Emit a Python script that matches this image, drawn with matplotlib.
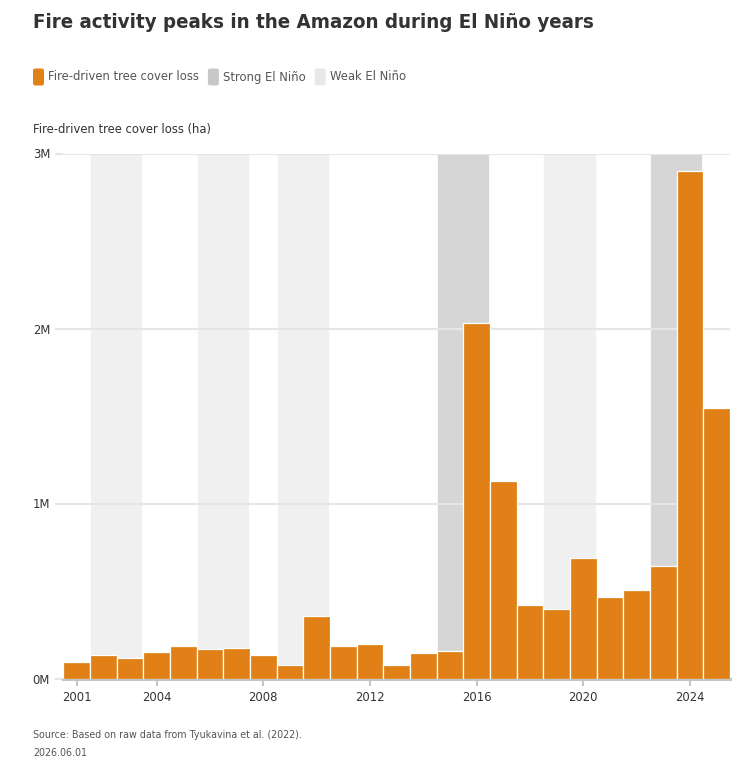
import matplotlib
matplotlib.use("Agg")
import matplotlib.pyplot as plt
from matplotlib import font_manager as fm
from matplotlib.patches import FancyBboxPatch

# ---------------- data ----------------
years = list(range(2001, 2026))
fire_loss = [94000, 136000, 115000, 153000, 188000, 167000, 177000, 137000, 80000, 356000,
             183000, 200000, 80000, 147000, 157000, 2031000, 1127000, 418000, 399000, 687000,
             464000, 504000, 641000, 2899000, 1547000]
strong_start = [2015, 2023]
strong_end = [2016, 2024]
weak_start = [2002, 2006, 2009, 2019]
weak_end = [2003, 2007, 2010, 2020]
xtick_years = [2001, 2004, 2008, 2012, 2016, 2020, 2024]
ytick_values = [0, 1000000, 2000000, 3000000]
ytick_labels = ["0M", "1M", "2M", "3M"]
title = "Fire activity peaks in the Amazon during El Niño years"
legend_labels = ["Fire-driven tree cover loss", "Strong El Niño", "Weak El Niño"]
y_title = "Fire-driven tree cover loss (ha)"
source = "Source: Based on raw data from Tyukavina et al. (2022)."
date_note = "2026.06.01"

# ---------------- fonts ----------------
names = {f.name for f in fm.fontManager.ttflist}
if "Liberation Sans Narrow" in names:
    FAM, STRETCH = "Liberation Sans Narrow", "normal"
elif any(f.name == "DejaVu Sans" and f.stretch == "condensed" for f in fm.fontManager.ttflist):
    FAM, STRETCH = "DejaVu Sans", "condensed"
else:
    FAM, STRETCH = "Roboto", "normal"
plt.rcParams["font.family"] = [FAM, "DejaVu Sans"]
plt.rcParams["font.stretch"] = STRETCH

ORANGE = "#e08016"
STRONG = "#d6d6d6"
WEAK = "#f0f0f0"
GRID = "#e6e6e6"
TXT = "#333333"
SUB = "#555555"
FS = 9.3

W, H = 753, 766
fig = plt.figure(figsize=(W / 100, H / 100), dpi=100)
x0, x1 = 63.3, 730.0
ytop, ybot = 153.5, 678.5
ax = fig.add_axes([x0 / W, 1 - ybot / H, (x1 - x0) / W, (ybot - ytop) / H])
ax.set_xlim(years[0] - 0.5, years[-1] + 0.5)
ax.set_ylim(0, 3000000)

for s, e in zip(weak_start, weak_end):
    ax.axvspan(s - 0.5, e + 0.5, facecolor=WEAK, edgecolor="white", lw=1.2, zorder=0.1)
for s, e in zip(strong_start, strong_end):
    ax.axvspan(s - 0.5, e + 0.5, facecolor=STRONG, edgecolor="white", lw=1.2, zorder=0.1)

ax.set_axisbelow(True)
ax.set_yticks(ytick_values)
ax.set_yticklabels(ytick_labels)
ax.yaxis.grid(True, color=GRID, lw=1.5)
ax.set_xticks(xtick_years)
ax.set_xticklabels([str(y) for y in xtick_years])

ax.bar(years, fire_loss, width=1.0, color=ORANGE, edgecolor="white", linewidth=0.9, zorder=2)
ax.axhline(0, color="#c4c4c4", lw=2.2, zorder=1.5, clip_on=False)

for sp in ax.spines.values():
    sp.set_visible(False)

ax.tick_params(axis="y", length=6, width=1.5, color=GRID, pad=16, labelsize=FS, labelcolor=TXT)
for lab in ax.get_yticklabels():
    lab.set_horizontalalignment("left")
ax.tick_params(axis="x", length=5, width=1.5, color="#c4c4c4", pad=4, labelsize=FS, labelcolor=TXT)

# ---------------- text ----------------
fig.text(33 / W, 1 - 22 / H, title, fontsize=14.7, fontweight="bold", color=TXT, va="center", ha="left")
fig.text(33 / W, 1 - 129 / H, y_title, fontsize=FS, color=TXT, va="center", ha="left")
fig.text(33 / W, 1 - 735 / H, source, fontsize=7.7, color=SUB, va="center", ha="left")
fig.text(33 / W, 1 - 753 / H, date_note, fontsize=7.7, color=SUB, va="center", ha="left")

# legend (manual row)
renderer = fig.canvas.get_renderer()
sw_colors = [ORANGE, "#c8c8c8", "#e8e8e8"]
xpos = 33.0
ymid = 77.0
for col, lab in zip(sw_colors, legend_labels):
    box = FancyBboxPatch((xpos / W, 1 - (ymid + 8.5) / H), 11 / W, 17 / H,
                         boxstyle="round,pad=0,rounding_size=0.003",
                         transform=fig.transFigure, facecolor=col, edgecolor="none")
    fig.patches.append(box)
    t = fig.text((xpos + 15) / W, 1 - ymid / H, lab, fontsize=FS, color=SUB, va="center", ha="left")
    bb = t.get_window_extent(renderer)
    xpos = bb.x1 + 9

fig.savefig("out.png", dpi=100)
